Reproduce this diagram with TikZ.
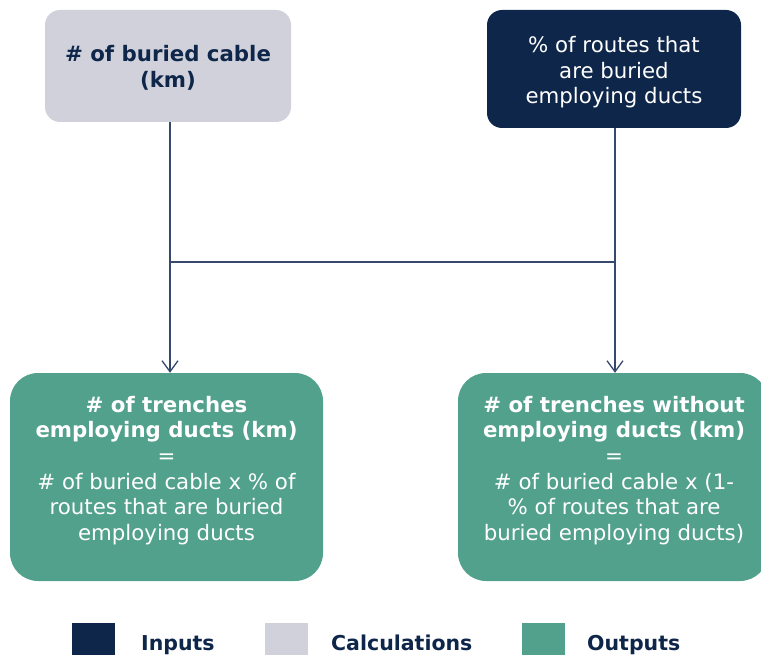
\documentclass[tikz,border=0pt]{standalone}
\usepackage{fontspec}
\setmainfont{DejaVu Sans}
\usetikzlibrary{arrows.meta}
\definecolor{navy}{HTML}{0E2649}
\definecolor{calcgray}{HTML}{D1D1DB}
\definecolor{outgreen}{HTML}{52A18C}
\definecolor{linecol}{HTML}{34496B}
\tikzset{
  box/.style={rectangle, rounded corners=15pt, inner sep=0pt},
  inbox/.style={box, fill=navy},
  calcbox/.style={box, fill=calcgray},
  outbox/.style={box, rounded corners=28pt, fill=outgreen},
  boxtext/.style={align=center, inner sep=0pt, font=\fontsize{21.3}{25.6}\selectfont},
  conn/.style={draw=linecol, line width=1.3pt},
  arr/.style={conn, -{Straight Barb[length=11pt, width=16pt, line width=1.3pt]}},
  legsq/.style={rectangle, inner sep=0pt, minimum width=43pt, minimum height=40pt, anchor=north west},
  legtext/.style={anchor=base west, inner sep=0pt, text=navy, font=\fontsize{20.5}{24}\selectfont\bfseries}
}
\begin{document}
\begin{tikzpicture}[x=1pt, y=-1pt]
\useasboundingbox (0,0) rectangle (761,655);
% boxes
\node[calcbox, minimum width=246pt, minimum height=112pt] (calc) at (168,66) {};
\node[boxtext, text=navy, font=\fontsize{21.3}{25.6}\selectfont\bfseries] (calct) at (168,68) {\# of buried cable\\(km)};
\node[inbox, minimum width=254pt, minimum height=118pt] (inp) at (614,69) {};
\node[boxtext, text=white] (inpt) at (614,72.5) {\% of routes that\\are buried\\employing ducts};
\node[outbox, minimum width=313pt, minimum height=208pt] (outL) at (166.5,477) {};
\node[boxtext, text=white] (outLt) at (166.5,470.5) {\textbf{\# of trenches}\\\textbf{employing ducts (km)}\\=\\\# of buried cable x \% of\\routes that are buried\\employing ducts};
\node[outbox, minimum width=310pt, minimum height=208pt] (outR) at (613,477) {};
\node[boxtext, text=white] (outRt) at (614,470.5) {\textbf{\# of trenches without}\\\textbf{employing ducts (km)}\\=\\\# of buried cable x (1-\\\% of routes that are\\buried employing ducts)};
% connectors
\coordinate (j1) at (170,262);
\coordinate (j2) at (615,262);
\draw[arr] (calc.south -| j1) -- (outL.north -| j1);
\draw[arr] (inp.south -| j2) -- (outR.north -| j2);
\draw[conn] (j1) -- (j2);
% legend
\node[legsq, fill=navy] (lin) at (72,623) {};
\node[legtext] (linT) at (141,650) {Inputs};
\node[legsq, fill=calcgray] (lca) at (265,623) {};
\node[legtext] (lcaT) at (331,650) {Calculations};
\node[legsq, fill=outgreen] (lou) at (522,623) {};
\node[legtext] (louT) at (587,650) {Outputs};
\end{tikzpicture}
\end{document}
